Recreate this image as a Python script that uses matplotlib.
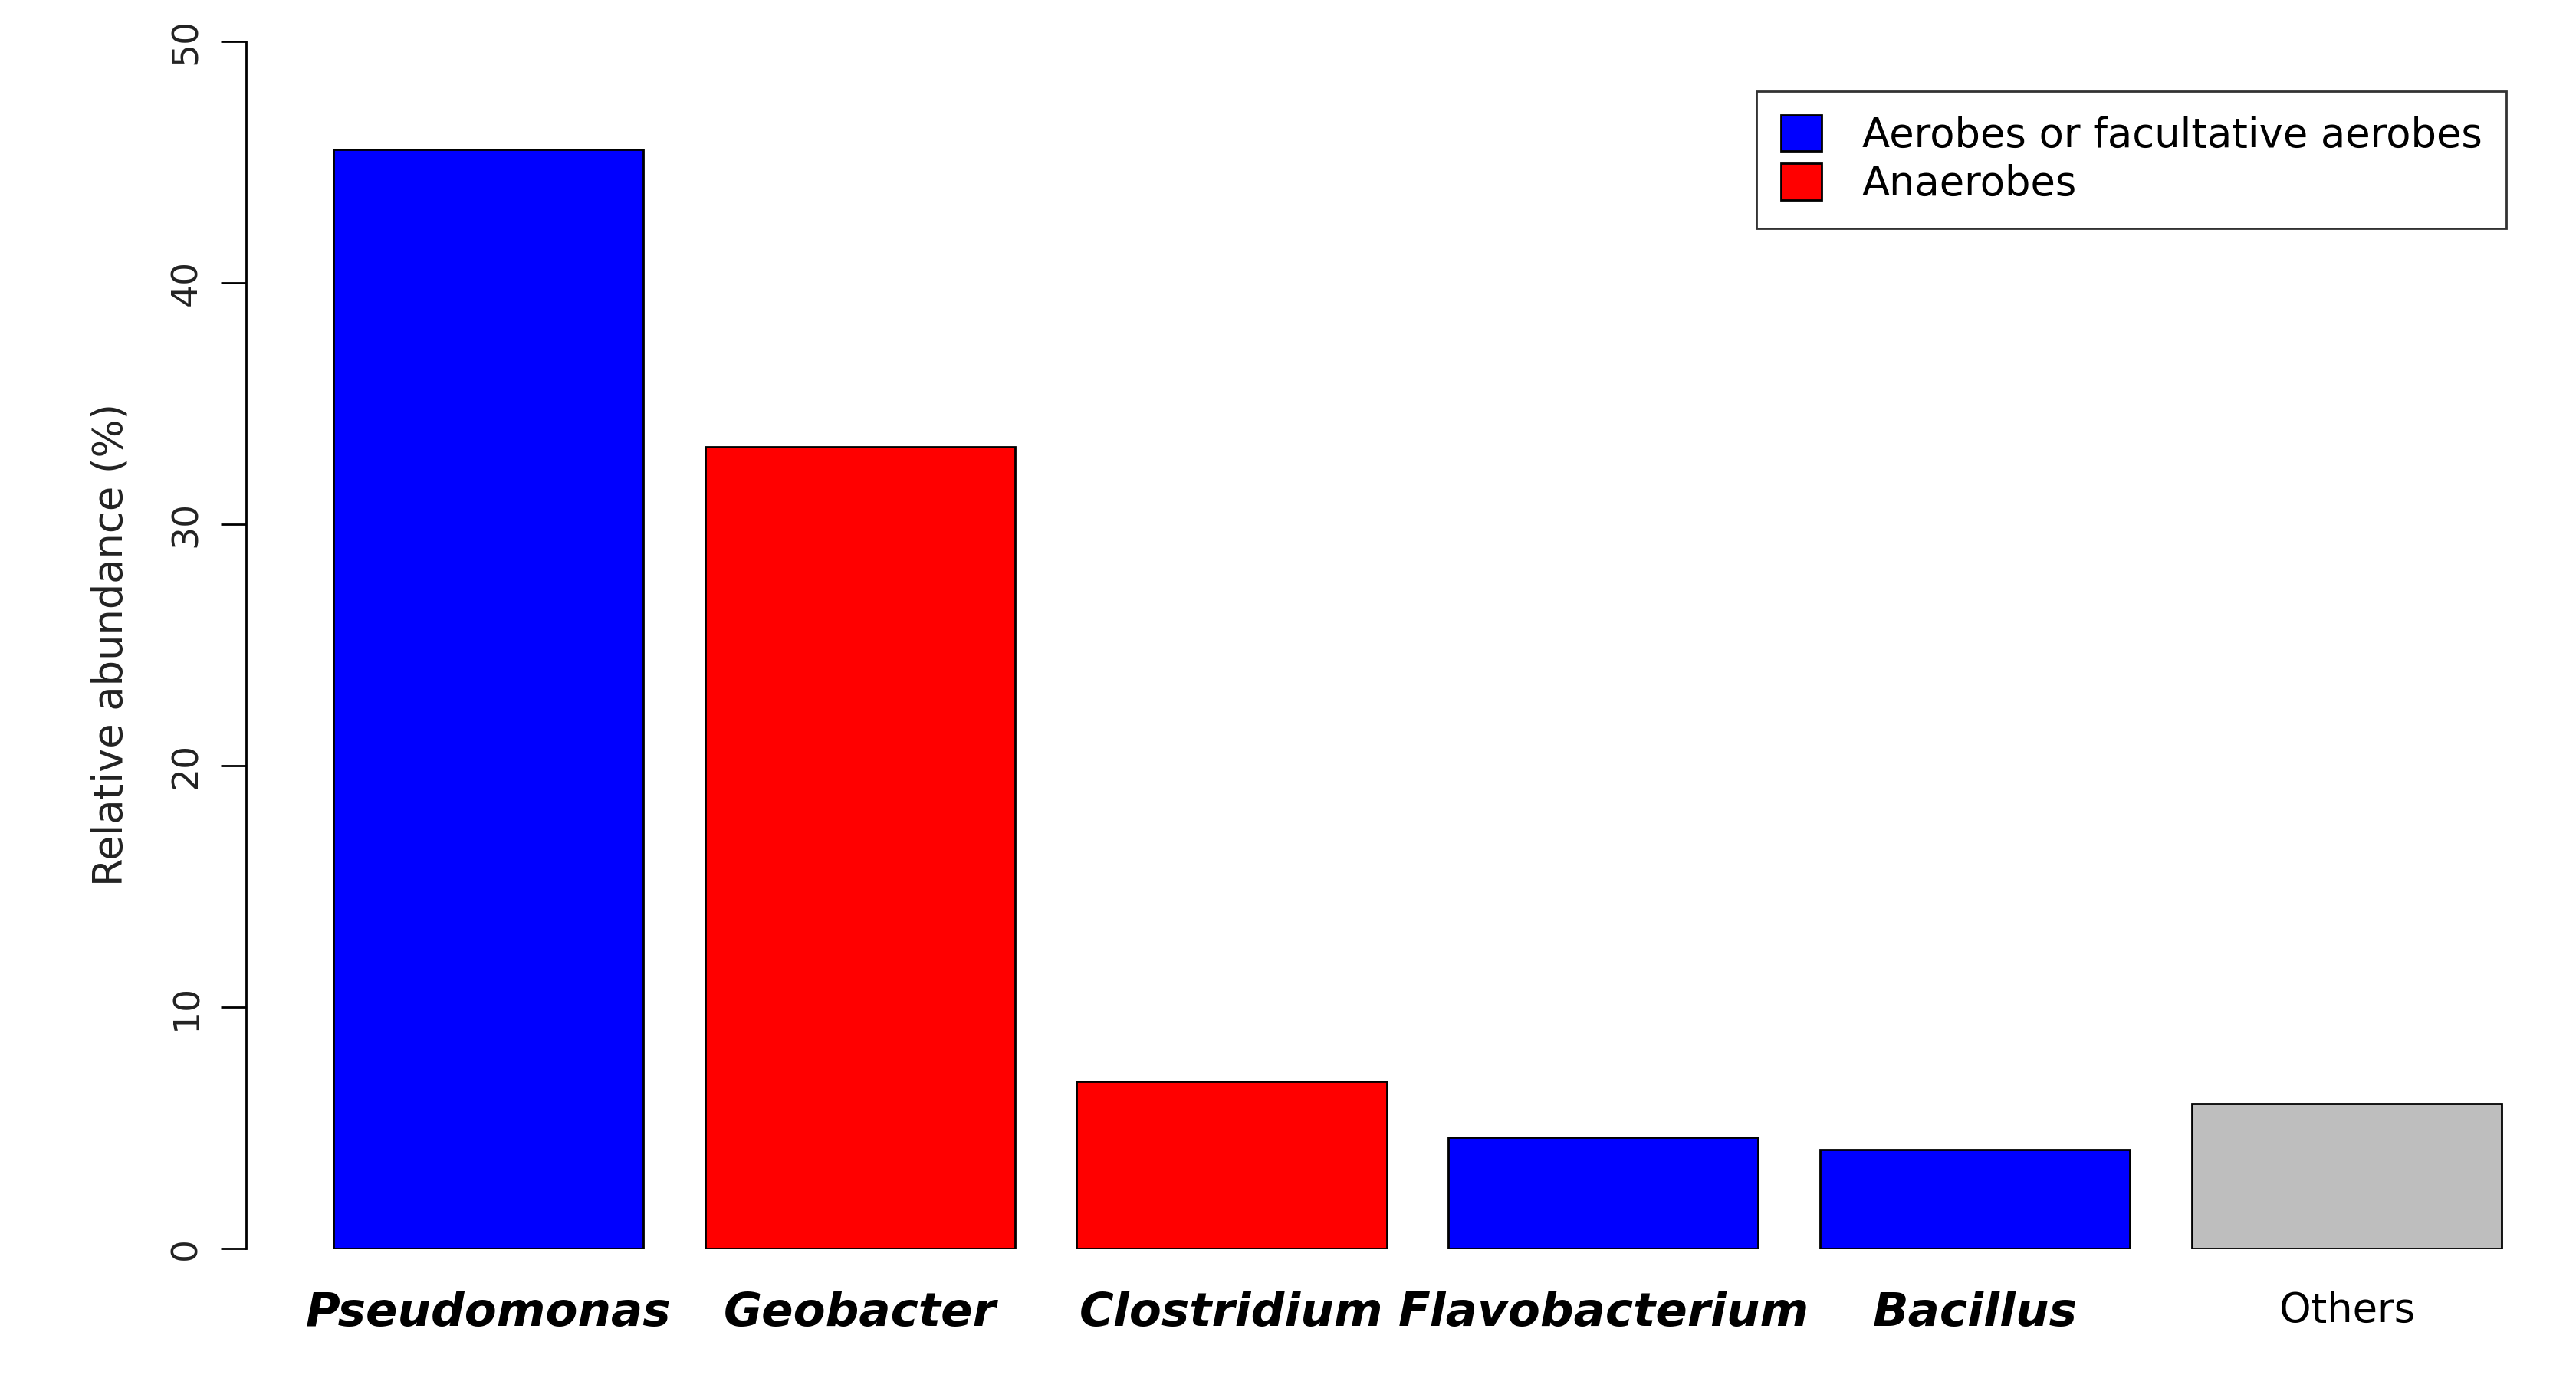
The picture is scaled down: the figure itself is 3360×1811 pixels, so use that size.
import matplotlib
matplotlib.use("Agg")
import matplotlib.pyplot as plt

genera = ["Pseudomonas", "Geobacter", "Clostridium", "Flavobacterium", "Bacillus", "Others"]
values = [45.5, 33.2, 6.9, 4.6, 4.1, 6.0]
colors = ["#0000FF", "#FF0000", "#FF0000", "#0000FF", "#0000FF", "#BEBEBE"]
legend_labels = ["Aerobes or facultative aerobes", "Anaerobes"]
legend_colors = ["#0000FF", "#FF0000"]
yticks = [0, 10, 20, 30, 40, 50]

W, H = 1568, 845
fig = plt.figure(figsize=(16.8, 9.055), dpi=200)
ax = fig.add_axes([150/W, 1-760/H, (1568-150)/W, (760-25)/H])
x = [i*1.2 for i in range(len(values))]
ax.bar(x, values, width=1.0, color=colors, edgecolor="black", linewidth=1.0)
ax.set_xlim(x[0]-0.78*1.2/1.2 - 0.0, x[0] + (1568-297)/188.6)
ax.set_ylim(0, 50)
for s in ["top", "right", "bottom"]:
    ax.spines[s].set_visible(False)
ax.spines["left"].set_linewidth(1.0)
ax.set_yticks(yticks)
ax.set_yticklabels([str(t) for t in yticks], rotation=90, va="center", fontsize=17, color="#222222")
ax.tick_params(axis="y", length=12, width=1.0, pad=8)
ax.set_xticks(x)
ax.set_xticklabels(genera, fontsize=22)
ax.tick_params(axis="x", length=0, pad=20)
for lab in ax.get_xticklabels():
    if lab.get_text() != "Others":
        lab.set_style("italic")
        lab.set_fontweight("bold")
        lab.set_fontsize(22)
    else:
        lab.set_fontsize(19)
ax.set_ylabel("Relative abundance (%)", fontsize=19, labelpad=18, color="#222222")

from matplotlib.patches import Patch
handles = [Patch(facecolor=c, edgecolor="black") for c in legend_colors]
leg = fig.legend(handles, legend_labels, loc="upper left",
                 bbox_to_anchor=(1057/W, 1-43/H), fontsize=19, frameon=True,
                 fancybox=False, edgecolor="black", handlelength=1.0, handleheight=1.0,
                 borderpad=0.6, labelspacing=0.2, handletextpad=1.0)
leg.get_frame().set_linewidth(1.0)
fig.savefig("out.png", dpi=200)
